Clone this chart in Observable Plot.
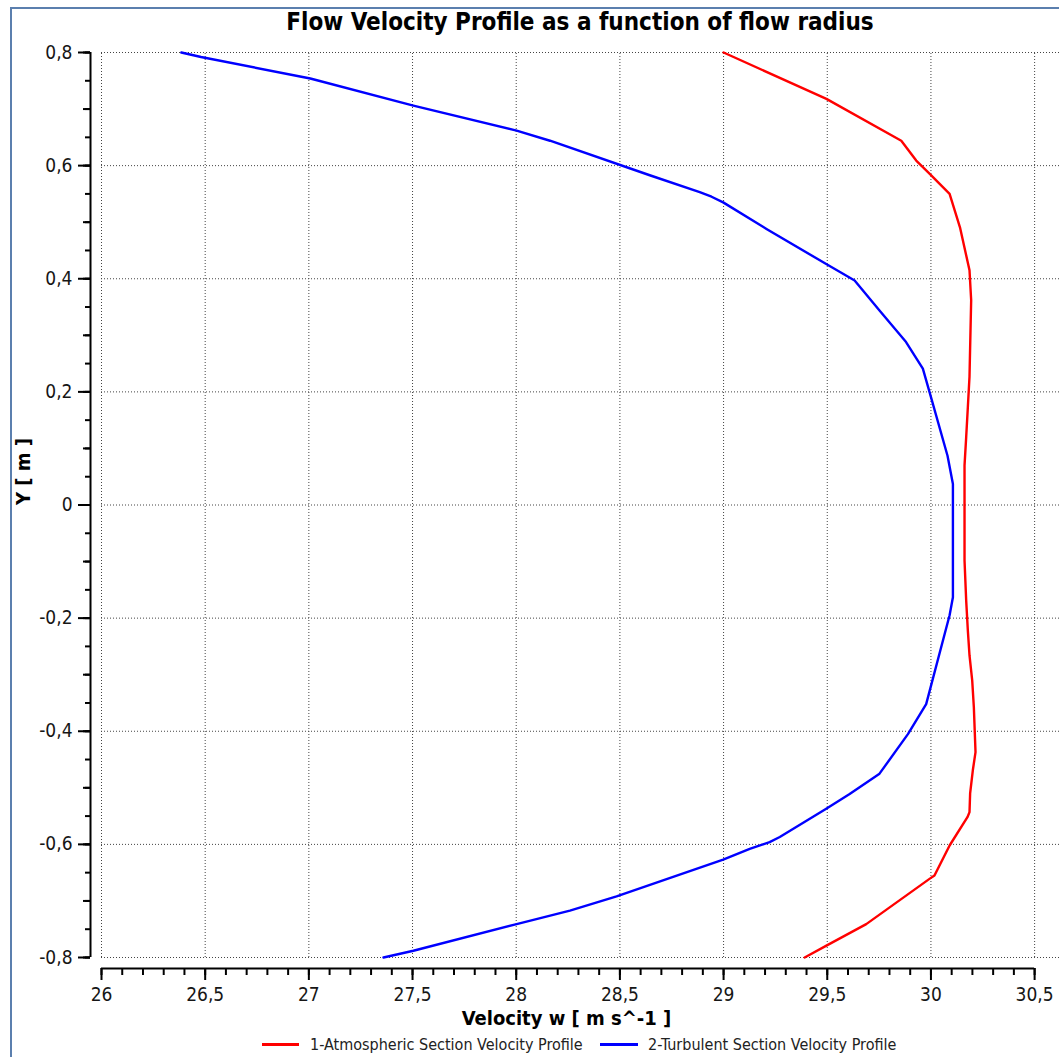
<!DOCTYPE html>
<html><head><meta charset="utf-8">
<script src="https://cdn.jsdelivr.net/npm/d3@7"></script>
<script src="https://cdn.jsdelivr.net/npm/@observablehq/plot@0.6"></script>
<style>
html,body{margin:0;padding:0;background:#fff;}
#wrap{position:relative;width:1059px;height:1057px;overflow:hidden;font-family:"DejaVu Sans Condensed","DejaVu Sans",sans-serif;font-stretch:condensed;}
#frame{position:absolute;left:10px;top:7px;width:1100px;height:1100px;border:2px solid #5b7fae;box-sizing:border-box;}
#title{position:absolute;left:100px;width:960px;top:7px;text-align:center;font-weight:bold;font-size:24px;line-height:30px;color:#000;}
#chart{position:absolute;left:0;top:40px;}
.leg{position:absolute;top:1036px;font-size:16px;line-height:18px;color:#222;white-space:nowrap;}
.sw{position:absolute;height:3px;top:1043px;}
</style></head><body>
<div id="wrap">
<div id="frame"></div>
<div id="title">Flow Velocity Profile as a function of flow radius</div>
<div id="chart"></div>
<div class="sw" style="left:262px;width:37px;background:#ff0000"></div>
<div class="leg" style="left:310px">1-Atmospheric Section Velocity Profile</div>
<div class="sw" style="left:600px;width:38px;background:#0000ff"></div>
<div class="leg" style="left:648px">2-Turbulent Section Velocity Profile</div>
</div>
<script>
// Series 1: Atmospheric section (velocity, radius)
const atmY = [0.8,0.718,0.644,0.609,0.586,0.55,0.491,0.415,0.362,0.227,0.173,0.12,0.07,-0.098,-0.169,-0.222,-0.266,-0.31,-0.358,-0.437,-0.469,-0.51,-0.543,-0.552,-0.602,-0.655,-0.661,-0.741,-0.779,-0.8];
const atmV = [29.0,29.496,29.857,29.929,29.993,30.09,30.14,30.186,30.194,30.186,30.178,30.17,30.162,30.162,30.17,30.178,30.186,30.199,30.207,30.215,30.202,30.189,30.186,30.176,30.09,30.017,29.993,29.688,29.496,29.391];
// Series 2: Turbulent section
const turbY = [0.8,0.792,0.754,0.706,0.662,0.644,0.583,0.553,0.545,0.535,0.488,0.426,0.397,0.344,0.288,0.241,0.2,0.087,0.037,-0.163,-0.195,-0.352,-0.405,-0.475,-0.511,-0.537,-0.587,-0.596,-0.608,-0.627,-0.692,-0.717,-0.741,-0.788,-0.8];
const turbV = [26.385,26.48,27.007,27.504,28.002,28.163,28.644,28.885,28.942,28.998,29.207,29.495,29.632,29.752,29.88,29.961,29.993,30.08,30.106,30.106,30.09,29.977,29.889,29.752,29.608,29.495,29.271,29.222,29.126,28.998,28.484,28.259,28.002,27.504,27.36];
// Tick labels
const xTicks = [26,26.5,27,27.5,28,28.5,29,29.5,30,30.5];
const yTicks = [-0.8,-0.6,-0.4,-0.2,0,0.2,0.4,0.6,0.8];
const xMinor = d3.range(260,306).map(d => d/10);
const yMid = d3.range(-8,9).map(d => d/10);
const yMinor = d3.range(-16,17).map(d => d/20);
const xRight = 30.62;

const atm = atmY.map((y,i) => ({y, v: atmV[i]}));
const turb = turbY.map((y,i) => ({y, v: turbV[i]}));
const fmt = d => String(d).replace(".", ",");
const FONT = "'DejaVu Sans Condensed','DejaVu Sans',sans-serif";
const ink = "#161616";

const chart = Plot.plot({
  width: 1059, height: 1000,
  marginLeft: 101, marginRight: 0, marginTop: 12, marginBottom: 83,
  x: {domain: [xTicks[0], xRight], label: null},
  y: {domain: [yTicks[0], yTicks[yTicks.length-1]], label: null},
  style: {fontFamily: FONT, fontSize: "19px", color: ink, background: "transparent", fontStretch: "condensed"},
  marks: [
    Plot.ruleX(xTicks, {y1: yTicks[0], y2: yTicks[yTicks.length-1], stroke: "#444", strokeDasharray: "1,2"}),
    Plot.ruleY(yTicks, {x1: xTicks[0], x2: xRight, stroke: "#444", strokeDasharray: "1,2"}),
    Plot.line(atm, {x: "v", y: "y", stroke: "#ff0000", strokeWidth: 2.4}),
    Plot.line(turb, {x: "v", y: "y", stroke: "#0000ff", strokeWidth: 2.4}),
    Plot.ruleX([xTicks[0]], {y1: yTicks[0], y2: yTicks[yTicks.length-1], dx: -11, stroke: "#000", strokeWidth: 2}),
    Plot.ruleY([yTicks[0]], {x1: xTicks[0], x2: xTicks[xTicks.length-1], dy: 11, stroke: "#000", strokeWidth: 2}),
    Plot.axisX(xMinor, {tickSize: 7, dy: 11, stroke: "#000", strokeWidth: 2, tickFormat: () => "", label: null}),
    Plot.axisX(xTicks, {tickSize: 12, tickPadding: 7, dy: 11, stroke: "#000", strokeWidth: 2, tickFormat: fmt, fontSize: 19, fill: ink, label: null}),
    Plot.axisY(yMinor, {tickSize: 5, dx: -11, stroke: "#000", strokeWidth: 2, tickFormat: () => "", label: null}),
    Plot.axisY(yMid, {tickSize: 7, dx: -11, stroke: "#000", strokeWidth: 2, tickFormat: () => "", label: null}),
    Plot.axisY(yTicks, {tickSize: 12, tickPadding: 6, dx: -11, stroke: "#000", strokeWidth: 2, tickFormat: fmt, fontSize: 19, fill: ink, label: null}),
    Plot.text(["Velocity w [ m s^-1 ]"], {frameAnchor: "bottom", dx: -14, dy: 67, fontWeight: "bold", fontSize: 20, fill: "#000"}),
    Plot.text(["Y [ m ]"], {frameAnchor: "left", dx: -78, rotate: -90, fontWeight: "bold", fontSize: 20, fill: "#000"})
  ]
});
document.getElementById("chart").appendChild(chart);
</script>
</body></html>
